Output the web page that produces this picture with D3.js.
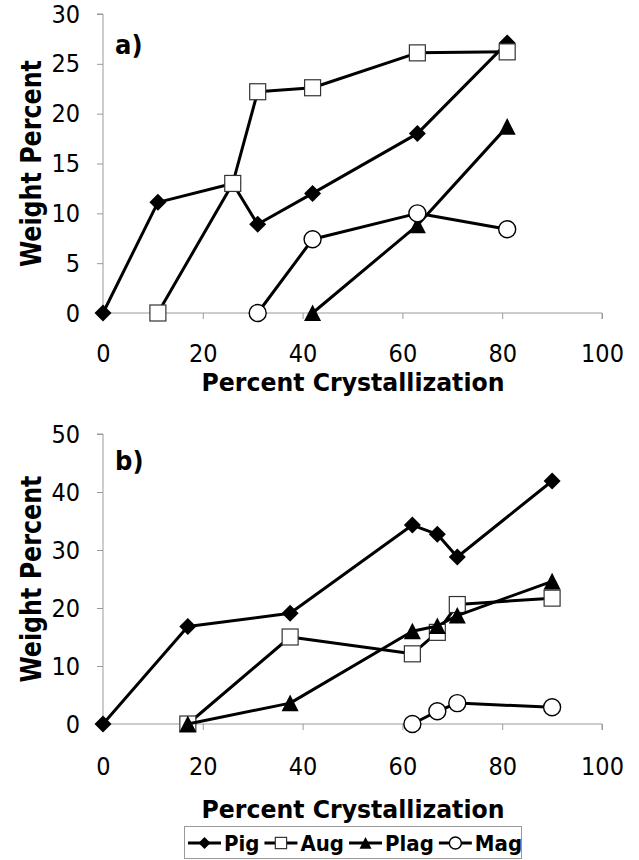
<!DOCTYPE html>
<html><head><meta charset="utf-8">
<script src="https://cdn.jsdelivr.net/npm/d3@7"></script>
<style>
html,body{margin:0;padding:0;background:#fff;}
svg{display:block;}
text{font-family:"DejaVu Sans Condensed","DejaVu Sans",sans-serif;fill:#000;}
</style></head>
<body>
<svg id="chart" width="639" height="860"></svg>
<script>
// ---------- data ----------
const seriesNames = ["Pig", "Aug", "Plag", "Mag"];
const xTicks = [0, 20, 40, 60, 80, 100];
const yTicksA = [0, 5, 10, 15, 20, 25, 30];
const yTicksB = [0, 10, 20, 30, 40, 50];

// panel a)
const pigA  = [[0,0],[11,11.1],[26,13],[31,8.9],[42,12],[63,18],[81,27.1]];
const augA  = [[11,0],[26,13],[31,22.2],[42,22.6],[63,26.1],[81,26.2]];
const plagA = [[42,0],[63,8.8],[81,18.7]];
const magA  = [[31,0],[42,7.4],[63,10],[81,8.4]];

// panel b)
const pigB  = [[0,0],[17,16.8],[37.5,19.1],[62,34.3],[67,32.7],[71,28.8],[90,41.9]];
const augB  = [[17,0],[37.5,15],[62,12.1],[67,15.8],[71,20.6],[90,21.7]];
const plagB = [[17,0],[37.5,3.6],[62,16],[67,16.9],[71,18.7],[90,24.6]];
const magB  = [[62,0],[67,2.2],[71,3.6],[90,2.9]];

const svg = d3.select("#chart");
const FONT = '"DejaVu Sans Condensed","DejaVu Sans",sans-serif';

function drawMarker(g, name, x, y, sz) {
  const h = sz / 2;
  if (name === "Pig") {
    g.append("path").attr("d", `M${x},${y-h}L${x+h},${y}L${x},${y+h}L${x-h},${y}Z`).attr("fill","#000");
  } else if (name === "Aug") {
    const s = sz * 0.94;
    g.append("rect").attr("x", x - s/2).attr("y", y - s/2).attr("width", s).attr("height", s)
      .attr("fill","#fff").attr("stroke","#333").attr("stroke-width",1.2);
  } else if (name === "Plag") {
    g.append("path").attr("d", `M${x},${y-h}L${x+h},${y+h*0.95}L${x-h},${y+h*0.95}Z`).attr("fill","#000");
  } else {
    g.append("circle").attr("cx", x).attr("cy", y).attr("r", h)
      .attr("fill","#fff").attr("stroke","#000").attr("stroke-width",1.4);
  }
}

function panel(cfg) {
  const x = d3.scaleLinear().domain([0,100]).range([103, 602]);
  const y = d3.scaleLinear().domain([0, cfg.ymax]).range([cfg.y0, cfg.ytop]);
  const g = svg.append("g");

  // axes
  const ya = g.append("g").attr("transform", `translate(${x(0)},0)`)
    .call(d3.axisLeft(y).tickValues(cfg.yTicks).tickSize(6).tickPadding(17).tickFormat(d3.format("d")));
  const xa = g.append("g").attr("transform", `translate(0,${y(0)})`)
    .call(d3.axisBottom(x).tickValues(xTicks).tickSize(6).tickPadding(cfg.xPad).tickFormat(d3.format("d")));
  [ya, xa].forEach(a => {
    a.select(".domain").attr("stroke", "#9a9a9a").attr("stroke-width", 1);
    a.selectAll(".tick line").attr("stroke", "#9a9a9a");
    a.selectAll(".tick text").attr("font-size", 25).attr("font-family", FONT).attr("fill","#000");
  });
  ya.select(".domain").attr("d", `M-6,${y(cfg.ymax)}H0V${y(0)}H-6`);
  xa.select(".domain").attr("d", `M${x(0)},6V0H${x(100)}V6`);

  // series
  const line = d3.line().x(d => x(d[0])).y(d => y(d[1]));
  cfg.series.forEach((data, i) => {
    const name = seriesNames[i];
    const sg = g.append("g");
    sg.append("path").attr("d", line(data)).attr("fill","none").attr("stroke","#000")
      .attr("stroke-width", 3).attr("stroke-linejoin","round");
    data.forEach(d => drawMarker(sg, name, x(d[0]), y(d[1]), 17));
  });

  // panel label
  g.append("text").attr("x", 115).attr("y", cfg.labelY).attr("font-size", 27).attr("font-weight","bold").text(cfg.label);

  // axis titles
  g.append("text").attr("x", 353).attr("y", cfg.titleY).attr("text-anchor","middle")
    .attr("font-size", 25).attr("font-weight","bold")
    .attr("textLength", 303).attr("lengthAdjust","spacingAndGlyphs")
    .text("Percent Crystallization");
  g.append("text").attr("transform", `translate(41,${(cfg.y0+cfg.ytop)/2}) rotate(-90)`)
    .attr("text-anchor","middle").attr("font-size", 28).attr("font-weight","bold")
    .attr("textLength", 207).attr("lengthAdjust","spacingAndGlyphs")
    .text("Weight Percent");
}

panel({ ymax: 30, y0: 313, ytop: 14, yTicks: yTicksA, xPad: 25, label: "a)", labelY: 54, titleY: 391,
        series: [pigA, augA, plagA, magA] });
panel({ ymax: 50, y0: 724, ytop: 434, yTicks: yTicksB, xPad: 27, label: "b)", labelY: 470, titleY: 818,
        series: [pigB, augB, plagB, magB] });

// legend
const lg = svg.append("g");
lg.append("rect").attr("x", 184.5).attr("y", 826.5).attr("width", 337).attr("height", 32)
  .attr("fill","#fff").attr("stroke","#9a9a9a").attr("stroke-width",1);
let lx = 188;
const ly = 843;
seriesNames.forEach(name => {
  lg.append("line").attr("x1", lx).attr("x2", lx + 33).attr("y1", ly).attr("y2", ly)
    .attr("stroke","#000").attr("stroke-width", 3);
  drawMarker(lg, name, lx + 16.5, ly, 12);
  const t = lg.append("text").attr("x", lx + 36).attr("y", ly + 8).attr("font-size", 22)
    .attr("font-weight","bold").text(name);
  lx += 36 + t.node().getComputedTextLength() + 5;
});
</script>
</body></html>
